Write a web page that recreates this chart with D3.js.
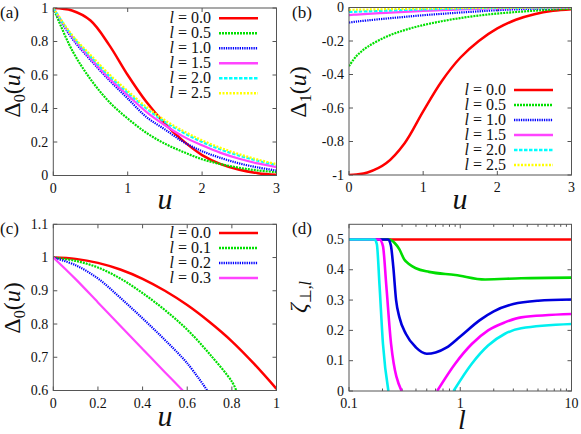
<!DOCTYPE html>
<html><head><meta charset="utf-8">
<script src="https://cdn.jsdelivr.net/npm/d3@7"></script>
<style>
text { font-family: serif; }
</style>
</head>
<body style="margin:0">
<svg id="chart" width="581" height="434" style="font-family:serif"></svg>
<script>
// ---------- Panel (a): Delta_0(u) ----------
const aU = [0,0.25,0.5,0.75,1,1.25,1.5,1.75,2,2.25,2.5,2.75,3];
const aL00 = [1,0.985,0.925,0.78,0.6,0.44,0.31,0.205,0.122,0.068,0.034,0.014,0.004];
const aL05 = [1,0.75,0.575,0.44,0.34,0.255,0.19,0.14,0.097,0.068,0.046,0.03,0.02];
const aL10 = [1,0.82,0.69,0.57,0.46,0.35,0.275,0.2,0.145,0.105,0.072,0.048,0.03];
const aL15 = [1,0.83,0.7,0.58,0.48,0.38,0.3,0.232,0.18,0.135,0.1,0.072,0.05];
const aL20 = [1,0.835,0.71,0.595,0.495,0.4,0.32,0.255,0.2,0.155,0.118,0.088,0.063];
const aL25 = [1,0.84,0.72,0.605,0.505,0.41,0.33,0.265,0.21,0.165,0.127,0.095,0.068];
const aLabels = ["0.0","0.5","1.0","1.5","2.0","2.5"];

// ---------- Panel (b): Delta_1(u) ----------
const bU = [0,0.1,0.25,0.5,0.75,1,1.25,1.5,1.75,2,2.25,2.5,2.75,3];
const bL00 = [-1,-0.997,-0.985,-0.93,-0.81,-0.62,-0.44,-0.3,-0.2,-0.125,-0.073,-0.04,-0.02,-0.01];
const bL05 = [-0.35,-0.29,-0.235,-0.175,-0.135,-0.105,-0.082,-0.063,-0.048,-0.036,-0.027,-0.019,-0.012,-0.007];
const bL10 = [-0.09,-0.084,-0.077,-0.066,-0.056,-0.046,-0.038,-0.03,-0.023,-0.016,-0.011,-0.007,-0.004,-0.002];
const bL15 = [-0.045,-0.042,-0.038,-0.032,-0.026,-0.021,-0.016,-0.012,-0.008,-0.005,-0.003,-0.002,-0.001,0];
const bL20 = [-0.027,-0.025,-0.023,-0.019,-0.015,-0.012,-0.009,-0.006,-0.004,-0.003,-0.002,-0.001,0,0];
const bL25 = [-0.014,-0.013,-0.012,-0.01,-0.008,-0.006,-0.004,-0.003,-0.002,-0.001,-0.001,0,0,0];
const bLabels = ["0.0","0.5","1.0","1.5","2.0","2.5"];

// ---------- Panel (c): Delta_0(u), small u ----------
const cU00 = [0,0.1,0.2,0.3,0.4,0.5,0.6,0.7,0.8,0.9,1.0];
const cL00 = [1,0.996,0.984,0.964,0.936,0.9,0.857,0.806,0.748,0.68,0.605];
const cU01 = [0,0.1,0.2,0.3,0.4,0.5,0.6,0.7,0.8,0.82];
const cL01 = [1,0.99,0.97,0.937,0.893,0.842,0.783,0.71,0.627,0.6];
const cU02 = [0,0.1,0.2,0.3,0.4,0.5,0.6,0.69];
const cL02 = [1,0.977,0.937,0.879,0.817,0.752,0.682,0.6];
const cU03 = [0,0.1,0.2,0.3,0.4,0.5,0.58];
const cL03 = [1,0.935,0.865,0.795,0.725,0.655,0.6];
const cLabels = ["0.0","0.1","0.2","0.3"];

// ---------- Panel (d): zeta_perp,l vs l ----------
const dX1 = [0.1,10];
const dY1 = [0.5,0.5];
const dX2 = [0.1,0.231,0.256,0.284,0.314,0.348,0.399,0.524,0.903,1.67,3.53,10];
const dY2 = [0.5,0.5,0.489,0.467,0.434,0.418,0.405,0.393,0.383,0.368,0.372,0.374];
const dX3 = [0.1,0.225,0.238,0.25,0.265,0.284,0.325,0.399,0.5,0.6,0.75,1.0,1.5,2.0,3.0,5.0,10];
const dY3 = [0.5,0.5,0.48,0.41,0.3,0.243,0.188,0.144,0.123,0.127,0.143,0.18,0.234,0.263,0.287,0.298,0.302];
const dX4a = [0.1,0.188,0.202,0.216,0.239,0.297];
const dY4a = [0.5,0.5,0.478,0.352,0.155,0];
const dX4b = [0.62,0.9,1.27,1.78,2.5,3.53,10];
const dY4b = [0,0.09,0.155,0.2,0.226,0.243,0.254];
const dX5a = [0.1,0.17,0.178,0.188,0.202,0.226];
const dY5a = [0.5,0.5,0.484,0.35,0.155,0];
const dX5b = [0.87,1.27,1.78,2.5,3.53,10];
const dY5b = [0,0.09,0.15,0.188,0.207,0.221];

// ---------- styles ----------
const styleA = [
  {c:"#ff0000", d:null},
  {c:"#00e000", d:"2,1"},
  {c:"#0000ff", d:"1.3,1"},
  {c:"#ff44ff", d:null},
  {c:"#00ffff", d:"3.5,1.5"},
  {c:"#ffff00", d:"2,1.5"}
];
const styleD = ["#ff0000","#00dd00","#0000dd","#ff00ff","#00f0f0"];
const FONT = "serif";

const svg = d3.select("#chart");
const frameColor = "#555";

function txt(sel, size){
  return sel.append("text").attr("font-family",FONT)
    .attr("font-size",size).attr("fill","#111");
}

function panel(box, xs, ys, opts){
  const id = "clip"+opts.name;
  svg.append("clipPath").attr("id",id).append("rect")
    .attr("x",box.l).attr("y",box.t).attr("width",box.r-box.l).attr("height",box.b-box.t);
  const tl = 4;
  opts.yTicks.forEach((v,i)=>{
    const y = ys(v);
    svg.append("line").attr("x1",box.l).attr("x2",box.l+tl).attr("y1",y).attr("y2",y).attr("stroke",frameColor);
    svg.append("line").attr("x1",box.r).attr("x2",box.r-tl).attr("y1",y).attr("y2",y).attr("stroke",frameColor);
    txt(svg,14).attr("x",box.l-5).attr("y",y+4.5).attr("text-anchor","end").text(opts.yLabels[i]);
  });
  opts.xTicks.forEach((v,i)=>{
    const x = xs(v);
    svg.append("line").attr("x1",x).attr("x2",x).attr("y1",box.b).attr("y2",box.b-tl).attr("stroke",frameColor);
    svg.append("line").attr("x1",x).attr("x2",x).attr("y1",box.t).attr("y2",box.t+tl).attr("stroke",frameColor);
    txt(svg,14).attr("x",x).attr("y",box.b+17).attr("text-anchor","middle").text(opts.xLabels[i]);
  });
  (opts.xMinor||[]).forEach(v=>{
    const x = xs(v);
    svg.append("line").attr("x1",x).attr("x2",x).attr("y1",box.b).attr("y2",box.b-2.5).attr("stroke",frameColor);
    svg.append("line").attr("x1",x).attr("x2",x).attr("y1",box.t).attr("y2",box.t+2.5).attr("stroke",frameColor);
  });
  const curves = svg.append("g").attr("clip-path","url(#"+id+")");
  opts.series.forEach(s=>{
    const pts = s.x.map((xv,i)=>[xv,s.y[i]]);
    const line = d3.line().x(p=>xs(p[0])).y(p=>ys(p[1])).curve(opts.curve||d3.curveCatmullRom.alpha(0.5));
    curves.append("path").attr("d",line(pts)).attr("fill","none")
      .attr("stroke",s.c).attr("stroke-width",s.w||2.2)
      .attr("stroke-dasharray",s.d||null);
  });
  svg.append("rect").attr("x",box.l).attr("y",box.t).attr("width",box.r-box.l).attr("height",box.b-box.t)
    .attr("fill","none").attr("stroke",frameColor).attr("stroke-width",1);
  txt(svg,17).attr("x",opts.tagX).attr("y",box.t+10).text(opts.tag);
}

function legend(x0, y0, labels, styles){
  labels.forEach((lab,i)=>{
    const y = y0 + 15*i;
    const t = txt(svg,16).attr("x",x0).attr("y",y+5).attr("text-anchor","end");
    t.append("tspan").attr("font-style","italic").text("l");
    t.append("tspan").text(" = "+lab);
    svg.append("line").attr("x1",x0+8).attr("x2",x0+47).attr("y1",y).attr("y2",y)
      .attr("stroke",styles[i].c).attr("stroke-width",2.4).attr("stroke-dasharray",styles[i].d);
  });
}

function yLabelDelta(x, y, sub){
  const t = txt(svg,24).attr("transform",`translate(${x},${y}) rotate(-90)`)
    .attr("text-anchor","middle");
  t.append("tspan").text("Δ");
  t.append("tspan").attr("font-size",16).attr("dy",5).text(sub);
  t.append("tspan").attr("dy",-5).text("(");
  t.append("tspan").attr("font-style","italic").text("u");
  t.append("tspan").text(")");
}
function xLabel(x, y, s, size){
  txt(svg,size||30).attr("x",x).attr("y",y).attr("text-anchor","middle")
    .attr("font-style","italic").text(s);
}

// ----- (a) -----
const boxA = {l:53.3,t:8,r:276.5,b:175.5};
const xA = d3.scaleLinear().domain([0,3]).range([boxA.l,boxA.r]);
const yA = d3.scaleLinear().domain([0,1]).range([boxA.b,boxA.t]);
const aSeries = [aL00,aL05,aL10,aL15,aL20,aL25].map((v,i)=>({x:aU,y:v,c:styleA[i].c,d:styleA[i].d,w:i===0?2.5:2.2}));
panel(boxA,xA,yA,{name:"a",tag:"(a)",tagX:0,
  xTicks:[0,1,2,3],xLabels:["0","1","2","3"],
  yTicks:[0,0.2,0.4,0.6,0.8,1],yLabels:["0","0.2","0.4","0.6","0.8","1"],
  series:aSeries});
legend(211,18.3,aLabels,styleA);
yLabelDelta(20,92,"0");
xLabel(165,209,"u");

// ----- (b) -----
const boxB = {l:349,t:7.5,r:571.5,b:175};
const xB = d3.scaleLinear().domain([0,3]).range([boxB.l,boxB.r]);
const yB = d3.scaleLinear().domain([-1,0]).range([boxB.b,boxB.t]);
const bSeries = [bL00,bL05,bL10,bL15,bL20,bL25].map((v,i)=>({x:bU,y:v,c:styleA[i].c,d:styleA[i].d,w:i===0?2.5:2.2}));
panel(boxB,xB,yB,{name:"b",tag:"(b)",tagX:292,
  xTicks:[0,1,2,3],xLabels:["0","1","2","3"],
  yTicks:[-1,-0.8,-0.6,-0.4,-0.2,0],yLabels:["-1","-0.8","-0.6","-0.4","-0.2","0"],
  series:bSeries});
legend(506,90,bLabels,styleA);
yLabelDelta(306,92,"1");
xLabel(460,209,"u");

// ----- (c) -----
const boxC = {l:53.3,t:224.3,r:276.5,b:390.5};
const xC = d3.scaleLinear().domain([0,1]).range([boxC.l,boxC.r]);
const yC = d3.scaleLinear().domain([0.6,1.1]).range([boxC.b,boxC.t]);
const cData = [[cU00,cL00],[cU01,cL01],[cU02,cL02],[cU03,cL03]];
const cSeries = cData.map((v,i)=>({x:v[0],y:v[1],c:styleA[i].c,d:styleA[i].d,w:i===0?2.5:2.2}));
panel(boxC,xC,yC,{name:"c",tag:"(c)",tagX:0,
  xTicks:[0,0.2,0.4,0.6,0.8,1],xLabels:["0","0.2","0.4","0.6","0.8","1"],
  yTicks:[0.6,0.7,0.8,0.9,1,1.1],yLabels:["0.6","0.7","0.8","0.9","1","1.1"],
  series:cSeries});
legend(211,233,cLabels,styleA);
yLabelDelta(20,308,"0");
xLabel(165,426,"u");

// ----- (d) -----
const boxD = {l:349,t:224.3,r:571.5,b:391};
const xD = d3.scaleLog().domain([0.1,10]).range([boxD.l,boxD.r]);
const yD = d3.scaleLinear().domain([0,0.55]).range([boxD.b,boxD.t]);
const dData = [[dX1,dY1,0],[dX2,dY2,1],[dX3,dY3,2],[dX4a,dY4a,3],[dX4b,dY4b,3],[dX5a,dY5a,4],[dX5b,dY5b,4]];
const dSeries = dData.map(v=>({x:v[0],y:v[1],c:styleD[v[2]],d:null,w:2.6}));
const minors = [];
[0.1,1].forEach(dec=>{for(let k=2;k<=9;k++) minors.push(dec*k);});
panel(boxD,xD,yD,{name:"d",tag:"(d)",tagX:292,curve:d3.curveMonotoneX,
  xTicks:[0.1,1,10],xLabels:["0.1","1","10"],xMinor:minors,
  yTicks:[0,0.1,0.2,0.3,0.4,0.5],yLabels:["0","0.1","0.2","0.3","0.4","0.5"],
  series:dSeries});
{
  const t = txt(svg,24).attr("transform","translate(306,297) rotate(-90)")
    .attr("text-anchor","middle");
  t.append("tspan").attr("font-style","italic").text("ζ");
  t.append("tspan").attr("font-size",16).attr("dy",5).text("⊥,");
  t.append("tspan").attr("font-size",16).attr("font-style","italic").text("l");
}
xLabel(462,429,"l",28);
</script>
</body></html>
